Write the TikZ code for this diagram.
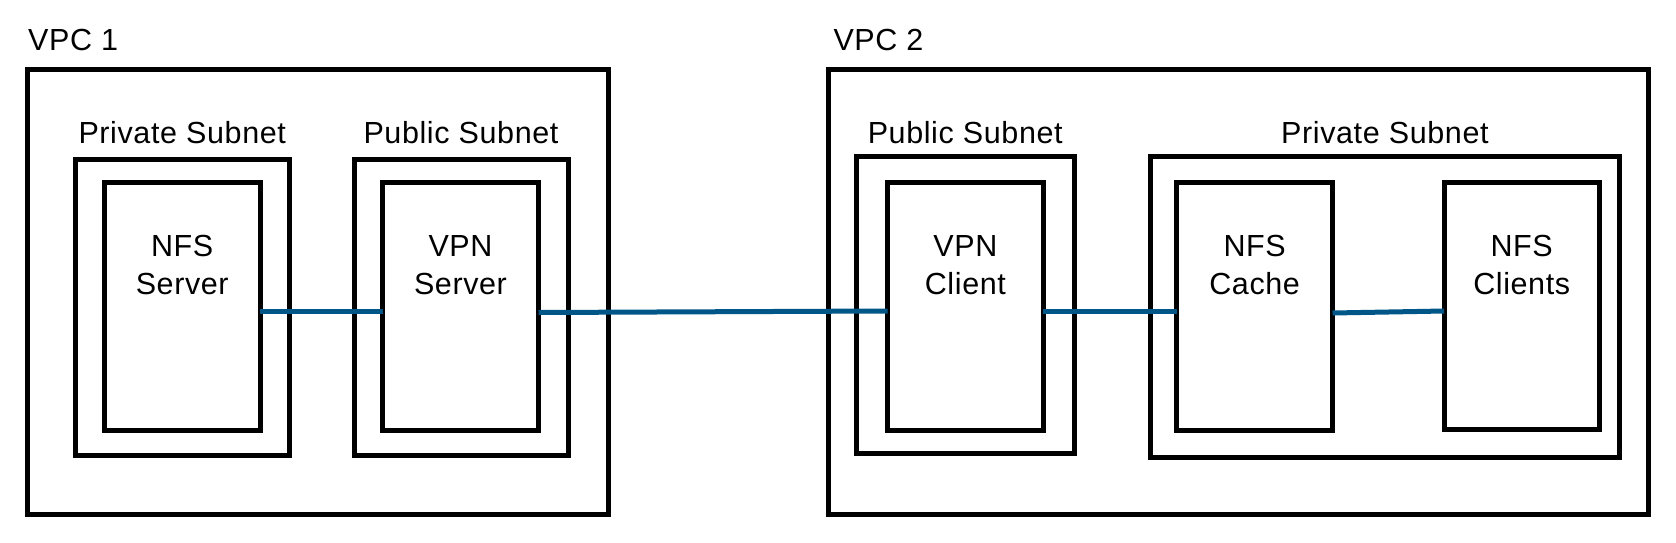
\documentclass[tikz,border=0pt]{standalone}
\usepackage{fontspec}
\setmainfont{Liberation Sans}[LetterSpace=2]
\usetikzlibrary{fit}
\definecolor{linkblue}{RGB}{0,87,135}
\tikzset{
  box/.style={draw=black, line width=5pt, rectangle, inner sep=0pt, outer sep=0pt},
  lbl/.style={font=\fontsize{30.5}{38}\selectfont, inner sep=0pt, align=center},
  link/.style={draw=linkblue, line width=5pt}
}
\begin{document}
\begin{tikzpicture}[x=1pt,y=-1pt]
\useasboundingbox (0,0) rectangle (1676,542);
% VPC 1
\node[box, fit={(27,69) (608,514)}] (vpc1) {};
\node[lbl, anchor=base west] (vpc1T) at ([xshift=1pt,yshift=19pt]vpc1.north west) {VPC 1};
\node[box, fit={(75.5,159) (289,455)}] (priv1) {};
\node[lbl, anchor=base] (priv1T) at ([yshift=15.7pt]priv1.north) {Private Subnet};
\node[box, fit={(104.5,182.5) (260,430)}] (nfss) {};
\node[lbl, anchor=base] (nfssT) at ([yshift=-111.5pt]nfss.north) {NFS\\Server};
\node[box, fit={(354,159) (568,455)}] (pub1) {};
\node[lbl, anchor=base] (pub1T) at ([yshift=15.7pt]pub1.north) {Public Subnet};
\node[box, fit={(382.5,182.5) (538.5,430)}] (vpns) {};
\node[lbl, anchor=base] (vpnsT) at ([yshift=-111.5pt]vpns.north) {VPN\\Server};
% VPC 2
\node[box, fit={(828.3,69.8) (1648.5,514.2)}] (vpc2) {};
\node[lbl, anchor=base west] (vpc2T) at ([xshift=5pt,yshift=19.8pt]vpc2.north west) {VPC 2};
\node[box, fit={(856.5,156.5) (1074,453.2)}] (pub2) {};
\node[lbl, anchor=base] (pub2T) at ([yshift=13.2pt]pub2.north) {Public Subnet};
\node[box, fit={(887.5,182.5) (1043.3,430)}] (vpnc) {};
\node[lbl, anchor=base] (vpncT) at ([yshift=-111.5pt]vpnc.north) {VPN\\Client};
\node[box, fit={(1150.8,156.5) (1619,457.5)}] (priv2) {};
\node[lbl, anchor=base] (priv2T) at ([yshift=13.2pt]priv2.north) {Private Subnet};
\node[box, fit={(1176.8,182.5) (1332.5,430)}] (cache) {};
\node[lbl, anchor=base] (cacheT) at ([yshift=-111.5pt]cache.north) {NFS\\Cache};
\node[box, fit={(1444.2,182.5) (1599.2,429.2)}] (clients) {};
\node[lbl, anchor=base] (clientsT) at ([yshift=-111.5pt]clients.north) {NFS\\Clients};
% links
\draw[link] ([yshift=-4.75pt]nfss.east) -- ([yshift=-4.75pt]vpns.west);
\draw[link] ([yshift=-6.25pt]vpns.east) -- ([yshift=-4.75pt]vpnc.west);
\draw[link] ([yshift=-4.75pt]vpnc.east) -- ([yshift=-4.75pt]cache.west);
\draw[link] ([yshift=-6.75pt]cache.east) -- ([yshift=-5.15pt]clients.west);
\end{tikzpicture}
\end{document}
